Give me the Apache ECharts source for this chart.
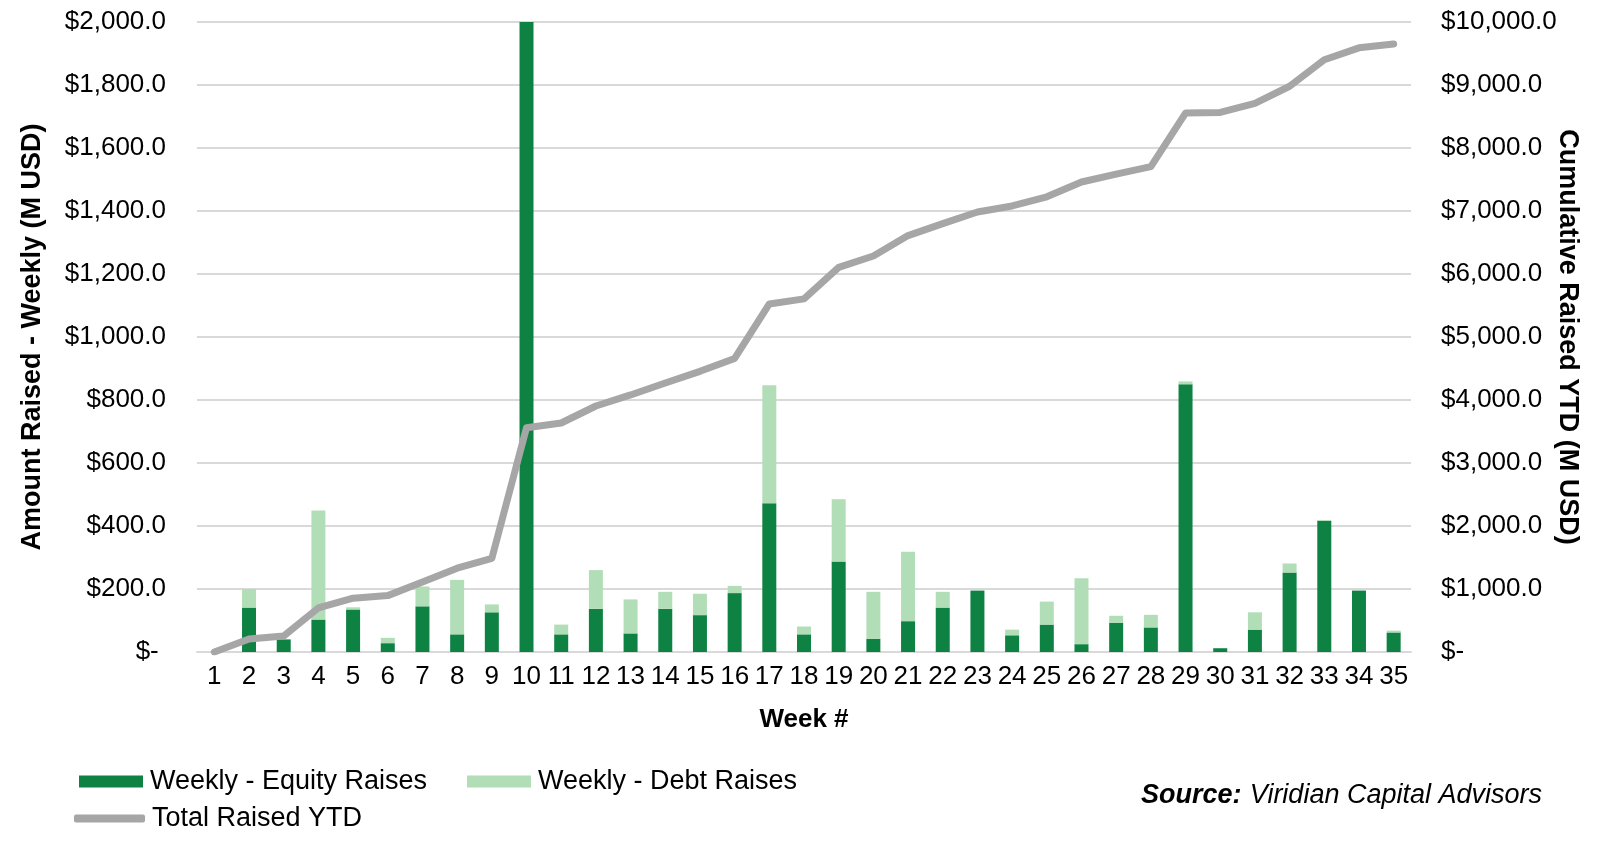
<!DOCTYPE html>
<html>
<head>
<meta charset="utf-8">
<script src="https://cdn.jsdelivr.net/npm/echarts@6/dist/echarts.min.js"></script>
<style>
html,body{margin:0;padding:0;background:#fff;}
#chart{width:1600px;height:853px;}
</style>
</head>
<body>
<div id="chart"></div>
<script>
const weeks = ['1','2','3','4','5','6','7','8','9','10','11','12','13','14','15','16','17','18','19','20','21','22','23','24','25','26','27','28','29','30','31','32','33','34','35'];
const equityRaises = [0,141,40,103,135,28,145,56,126,2080,56,137,59,137,117,187,472,56,287,42,98,141,195,53,87,25,92,78,850,12,71,252,416,195,62];
const debtRaises = [0,59,0,346,7,17,63,173,25,0,31,123,108,54,68,23,375,25,198,149,220,50,0,18,73,209,23,40,9,0,55,29,3,0,6];
const totalRaisedYTD = [0,205,255,700,855,895,1110,1330,1485,3560,3635,3905,4080,4270,4455,4660,5525,5605,6105,6285,6610,6800,6985,7080,7225,7460,7585,7705,8555,8565,8710,8980,9400,9590,9650];
const leftTickLabels = ['$- ','$200.0','$400.0','$600.0','$800.0','$1,000.0','$1,200.0','$1,400.0','$1,600.0','$1,800.0','$2,000.0'];
const rightTickLabels = ['$-','$1,000.0','$2,000.0','$3,000.0','$4,000.0','$5,000.0','$6,000.0','$7,000.0','$8,000.0','$9,000.0','$10,000.0'];

const FONT = "'Liberation Sans', Arial, sans-serif";
const EQUITY_C = '#0e8242';
const DEBT_C = '#b2deb7';
const LINE_C = '#a6a6a6';
const GRID_C = '#d9d9d9';

const chart = echarts.init(document.getElementById('chart'), null, {renderer:'canvas'});
const legendText = {fontFamily: FONT, fontSize: 27, color: '#000', padding:[0,0,0,2]};
chart.setOption({
  backgroundColor: '#fff',
  animation: false,
  grid: {left:197, right:189, top:22, bottom:201, containLabel:false},
  legend: [
    {data:['Weekly - Equity Raises'], left:79, top:768, padding:0, itemWidth:64, itemHeight:12, icon:'rect', textStyle:legendText},
    {data:['Weekly - Debt Raises'], left:467, top:768, padding:0, itemWidth:64, itemHeight:12, icon:'rect', textStyle:legendText},
    {data:['Total Raised YTD'], left:74, top:805, padding:0, itemWidth:71, itemHeight:8, icon:'roundRect', textStyle:legendText}
  ],
  xAxis: {
    type:'category', data: weeks,
    name:'Week #', nameLocation:'middle', nameGap:55,
    nameTextStyle:{fontFamily:FONT, fontSize:26, fontWeight:'bold', color:'#000'},
    axisLine:{show:true, lineStyle:{color:GRID_C, width:2}},
    axisTick:{show:false},
    axisLabel:{fontFamily:FONT, fontSize:26, color:'#000', margin:12, interval:0}
  },
  yAxis: [
    {
      type:'value', min:0, max:2000, interval:200,
      name:'Amount Raised - Weekly (M USD)', nameLocation:'middle', nameGap:151, nameMoveOverlap:false,
      nameTextStyle:{fontFamily:FONT, fontSize:27, fontWeight:'bold', color:'#000'},
      axisLine:{show:false}, axisTick:{show:false},
      splitLine:{show:true, lineStyle:{color:GRID_C, width:2}},
      axisLabel:{fontFamily:FONT, fontSize:26, color:'#000', margin:31,
        formatter:(v, i) => leftTickLabels[Math.round(v/200)]}
    },
    {
      type:'value', min:0, max:10000, interval:1000, position:'right',
      name:'Cumulative Raised YTD (M USD)', nameLocation:'middle', nameGap:143, nameRotate:-90, nameMoveOverlap:false,
      nameTextStyle:{fontFamily:FONT, fontSize:27, fontWeight:'bold', color:'#000'},
      axisLine:{show:false}, axisTick:{show:false},
      splitLine:{show:false},
      axisLabel:{fontFamily:FONT, fontSize:26, color:'#000', margin:30,
        formatter:(v, i) => rightTickLabels[Math.round(v/1000)]}
    }
  ],
  series: [
    {name:'Weekly - Equity Raises', type:'bar', stack:'weekly', data:equityRaises, barWidth:14, clip:true,
      itemStyle:{color:EQUITY_C}},
    {name:'Weekly - Debt Raises', type:'bar', stack:'weekly', data:debtRaises, barWidth:14, clip:true,
      itemStyle:{color:DEBT_C}},
    {name:'Total Raised YTD', type:'line', yAxisIndex:1, data:totalRaisedYTD, showSymbol:false, symbol:'none',
      lineStyle:{color:LINE_C, width:7, cap:'round', join:'round'}, itemStyle:{color:LINE_C}, z:5}
  ],
  graphic: [
    {type:'text', left:1141, top:782,
      style:{
        text:'{b|Source:} {i|Viridian Capital Advisors}',
        rich:{
          b:{fontFamily:FONT, fontSize:27, fontWeight:'bold', fontStyle:'italic', fill:'#000', padding:[0,5,0,0]},
          i:{fontFamily:FONT, fontSize:27, fontStyle:'italic', fill:'#000'}
        }
      }}
  ]
});
</script>
</body>
</html>
